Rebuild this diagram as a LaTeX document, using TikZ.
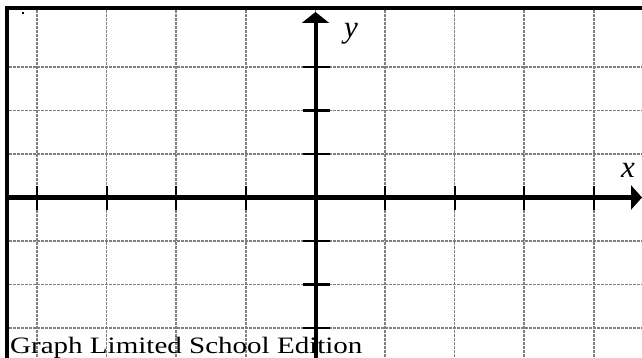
\documentclass[tikz,border=0pt]{standalone}
\usepackage{fontspec}
\setmainfont{Liberation Serif}
\usetikzlibrary{arrows.meta}
\tikzset{
  gridline/.style={draw=black!50, line width=1.5pt, dash pattern=on 3pt off 1pt},
  axisline/.style={draw=black, line width=4pt},
  frameline/.style={draw=black, line width=3.6pt},
  tickline/.style={draw=black, line width=2.2pt},
  axislabel/.style={font=\fontsize{31}{31}\selectfont\itshape, inner sep=0pt},
  footer/.style={font=\fontsize{23.5}{23.5}\selectfont, inner sep=0pt, anchor=base west}
}
\begin{document}
\begin{tikzpicture}[x=1pt,y=-1pt]
\useasboundingbox (0,0) rectangle (642,358);
\fill[white] (0,0) rectangle (642,358);
% grid
\foreach \k in {0,...,8}{
  \draw[gridline] ({37+69.6*\k},10) -- ({37+69.6*\k},358);
}
\foreach \k in {0,...,6}{
  \draw[gridline] (9,{67+43.5*\k}) -- (642,{67+43.5*\k});
}
% frame
\draw[frameline] (7,358) -- (7,8.3) -- (642,8.3);
\fill[black] (21.7,12.3) rectangle (24,13.8);
% footer text
\node[footer] (foot) at (10,353) {\scalebox{1.235}[1]{Graph Limited School Edition}};
% axes
\coordinate (O) at (315.5,197.5);
\coordinate (xl) at (9,197.5);
\coordinate (xr) at (642,197.5);
\coordinate (yb) at (315.5,358);
\coordinate (yt) at (315.5,12);
\draw[axisline, -{Triangle[length=11pt,width=24pt]}] (xl) -- (xr);
\draw[axisline, -{Triangle[length=11pt,width=27pt]}] (yb) -- (yt);
% ticks
\foreach \k in {0,1,2,3,5,6,7,8}{
  \draw[tickline] ({37+69.6*\k},186.5) -- ({37+69.6*\k},209.5);
}
\foreach \k in {0,1,2,4,5,6}{
  \draw[tickline] (302.5,{67+43.5*\k}) -- (329.5,{67+43.5*\k});
}
% labels
\node[axislabel] (ylab) at (351,34) {y};
\node[axislabel] (xlab) at (628,170) {x};
\end{tikzpicture}
\end{document}
